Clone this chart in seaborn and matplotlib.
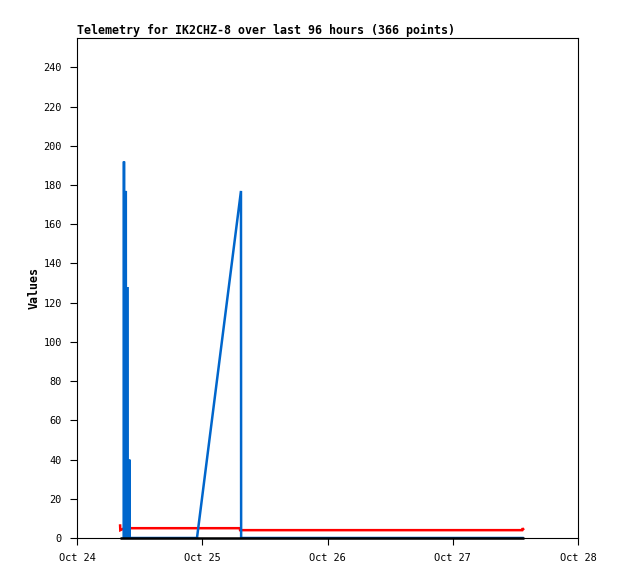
import matplotlib
matplotlib.use("Agg")
import matplotlib.pyplot as plt
import matplotlib.dates as mdates
import seaborn as sns
import pandas as pd

# hours after Oct 24 00:00 and the values
blue_hours = [8.95, 9.0, 9.05, 9.30, 9.35, 9.40, 9.55, 9.62, 9.70, 9.95, 10.02, 10.08, 22.99, 31.42, 31.45, 85.6]
blue_vals = [0, 192, 0, 0, 177, 0, 0, 128, 0, 0, 40, 0, 0, 177, 0, 0]

red_hours = [8.25, 8.30, 9.10, 31.20, 31.25, 85.30, 85.40, 85.60]
red_vals = [7, 4, 5, 5, 4, 4, 5, 4]

black_hours = [8.25, 85.6]
black_vals = [0, 0]

start = pd.Timestamp("2024-10-24")


def to_frame(hours, vals):
    return pd.DataFrame({"time": start + pd.to_timedelta(hours, unit="h"), "value": vals})


sns.set_style("ticks")
plt.rcParams["font.family"] = ["DejaVu Sans Mono"]
plt.rcParams["text.color"] = "black"
plt.rcParams["axes.labelcolor"] = "black"
plt.rcParams["lines.solid_capstyle"] = "butt"
plt.rcParams["lines.solid_joinstyle"] = "miter"

fig = plt.figure(figsize=(6.18, 5.79), dpi=100)
ax = fig.add_axes([77 / 618, 1 - 538 / 579, 501 / 618, 500 / 579])

sns.lineplot(data=to_frame(red_hours, red_vals), x="time", y="value", color="#ff0000",
             linewidth=1.8, ax=ax, zorder=2)
sns.lineplot(data=to_frame(blue_hours, blue_vals), x="time", y="value", color="#0066cc",
             linewidth=1.8, ax=ax, zorder=3)
sns.lineplot(data=to_frame(black_hours, black_vals), x="time", y="value", color="#000000",
             linewidth=1.8, ax=ax, zorder=4, clip_on=False)

ax.set_xlim(start, start + pd.Timedelta(days=4))
ax.set_ylim(0, 255)
ax.set_yticks(range(0, 241, 20))
ax.xaxis.set_major_locator(mdates.DayLocator())
ax.xaxis.set_major_formatter(mdates.DateFormatter("%b %d"))

for side in ["top", "right", "left", "bottom"]:
    ax.spines[side].set_visible(True)
    ax.spines[side].set_color("black")
    ax.spines[side].set_linewidth(0.8)

ax.tick_params(axis="both", direction="out", length=5, width=0.8, color="black",
               labelsize=7.4, labelcolor="black")
ax.tick_params(axis="y", pad=6)
ax.tick_params(axis="x", pad=6)

ax.set_xlabel("")
ax.set_ylabel("Values", fontsize=8.4, fontweight="bold", labelpad=2)
ax.set_title("Telemetry for IK2CHZ-8 over last 96 hours (366 points)", loc="left",
             fontsize=8.4, fontweight="bold", pad=3, color="black")

fig.savefig("out.png", dpi=100, facecolor="white")
